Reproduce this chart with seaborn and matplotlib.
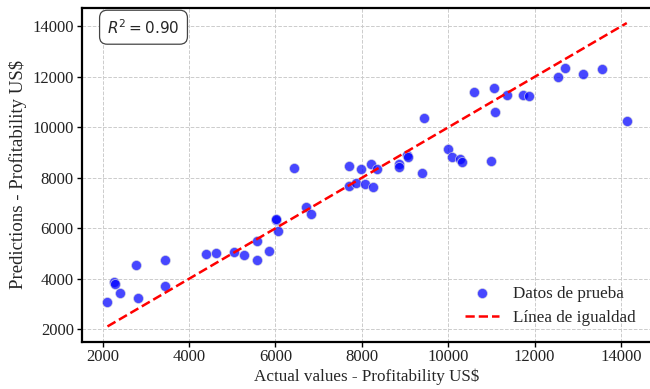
import numpy as np
import pandas as pd
import matplotlib
matplotlib.use("Agg")
import matplotlib.pyplot as plt
import seaborn as sns

actual = [2115, 2270, 2300, 2399, 2768, 2815, 3447, 3447, 4400, 4615,
          5053, 5284, 5565, 5565, 5861, 6012, 6020, 6069, 6438, 6708,
          6830, 7707, 7707, 7869, 7977, 8074, 8224, 8270, 8346, 8850,
          8858, 9050, 9058, 9401, 9431, 9992, 10088, 10262, 10326, 10596,
          10982, 11051, 11076, 11362, 11720, 11861, 12535, 12692, 13116,
          13555, 14131]
predicted = [3093, 3873, 3806, 3449, 4534, 3228, 4744, 3715, 4970, 5021,
             5049, 4942, 5497, 4744, 5120, 6340, 6372, 5893, 8399, 6843,
             6566, 8455, 7687, 7786, 8336, 7742, 8566, 7627, 8336, 8540,
             8430, 8890, 8830, 8209, 10367, 9140, 8831, 8732, 8617, 11409,
             8673, 11544, 10617, 11298, 11298, 11239, 12003, 12336, 12122,
             12308, 10261]
r2_text = "$R^2 = 0.90$"
label_points = "Datos de prueba"
label_line = "Línea de igualdad"
xlabel = "Actual values - Profitability US$"
ylabel = "Predictions - Profitability US$"

df = pd.DataFrame({"actual": actual, "pred": predicted})
lo, hi = min(actual), max(actual)
line_df = pd.DataFrame({"x": [lo, hi], "y": [lo, hi]})

sns.set_theme(style="whitegrid")
plt.rcParams["font.family"] = ["Liberation Serif", "DejaVu Serif"]
plt.rcParams["mathtext.fontset"] = "dejavusans"

fig = plt.figure(figsize=(6.5, 3.89), dpi=100)
ax = fig.add_axes([0.1254, 0.1218, 0.8788, 0.858])

sns.scatterplot(data=df, x="actual", y="pred", ax=ax, color="blue", alpha=0.72,
                s=52, edgecolor="#dddddd", linewidth=0.6, label=label_points, zorder=3)
sns.lineplot(data=line_df, x="x", y="y", ax=ax, color="red", linestyle="--",
             linewidth=1.8, label=label_line, zorder=4)

ax.set_xlim(lo - 0.05 * (hi - lo), hi + 0.05 * (hi - lo))
ax.set_ylim(lo - 0.05 * (hi - lo), hi + 0.05 * (hi - lo))
ax.set_xticks([2000, 4000, 6000, 8000, 10000, 12000, 14000])
ax.set_yticks([2000, 4000, 6000, 8000, 10000, 12000, 14000])

ax.grid(True, linestyle="--", color="#cccccc", linewidth=0.7)
for sp in ax.spines.values():
    sp.set_color("black")
    sp.set_linewidth(1.6)
ax.tick_params(axis="both", which="major", labelsize=12, length=3.5, width=1,
               color="black", bottom=True, left=True, pad=2, labelcolor="#222222")
ax.set_xlabel(xlabel, fontsize=12.3, labelpad=2)
ax.set_ylabel(ylabel, fontsize=13.5, labelpad=4)

ax.text(0.045, 0.97, r2_text, transform=ax.transAxes, fontsize=11,
        va="top", ha="left",
        bbox=dict(boxstyle="round,pad=0.5", facecolor="white", edgecolor="#444444", linewidth=0.9))

leg = ax.legend(loc="lower right", frameon=False, fontsize=12.3, handlelength=2.0,
                bbox_to_anchor=(0.997, 0.0))

fig.savefig("out.png", dpi=100)
